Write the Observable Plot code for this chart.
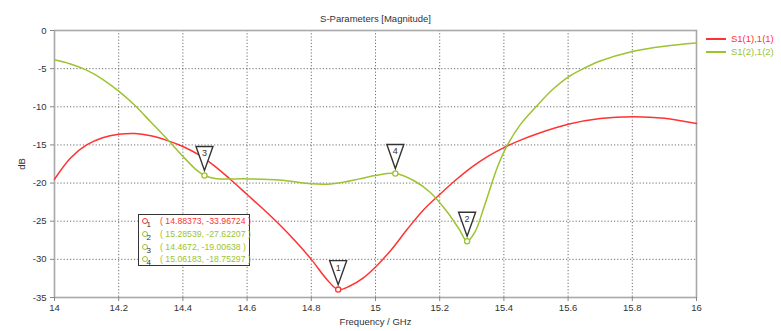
<!DOCTYPE html>
<html>
<head>
<meta charset="utf-8">
<script src="https://cdn.jsdelivr.net/npm/d3@7"></script>
<script src="https://cdn.jsdelivr.net/npm/@observablehq/plot@0.6"></script>
<style>
  html, body { margin: 0; padding: 0; background: #fff; }
  #wrap { position: relative; width: 781px; height: 331px; font-family: "Liberation Sans", Arial, sans-serif; }
  #legend { position: absolute; left: 706px; top: 32px; font-size: 9.5px; }
  #legend .row { display: flex; align-items: center; height: 13px; }
  #legend .sw { width: 20px; height: 2px; margin-right: 5px; }
  #readout { position: absolute; left: 138px; top: 214px; width: 110px; height: 50px;
    border: 1.5px solid #333; background: #fff; font-size: 8.7px; }
  #readout .row { position: relative; height: 12.8px; line-height: 12.8px; }
  #readout .dot { position: absolute; left: 3px; top: 3px; width: 4px; height: 4px; border-radius: 50%;
    border: 1.3px solid; background: #fff; }
  #readout .id { position: absolute; left: 7.5px; top: 6px; font-size: 8px; color: #333; line-height: 8px; }
  #readout .val { position: absolute; left: 21px; top: 0; white-space: nowrap; }
</style>
</head>
<body>
<div id="wrap"></div>
<script>
// Frequency axis ticks (GHz) and magnitude ticks (dB)
const freqTicks = [14, 14.2, 14.4, 14.6, 14.8, 15, 15.2, 15.4, 15.6, 15.8, 16];
const dbTicks = [0, -5, -10, -15, -20, -25, -30, -35];

// S1(1),1(1) magnitude samples
const s11Freq = [14.0, 14.05, 14.1, 14.15, 14.2, 14.25, 14.3, 14.35, 14.4, 14.45, 14.5, 14.55, 14.6, 14.65, 14.7, 14.75, 14.8, 14.85, 14.88373, 14.92, 14.96, 15.0, 15.05, 15.1, 15.15, 15.2, 15.25, 15.3, 15.35, 15.4, 15.45, 15.5, 15.6, 15.7, 15.8, 15.9, 16.0];
const s11Db = [-19.5, -16.7, -15.0, -14.05, -13.6, -13.5, -13.8, -14.4, -15.2, -16.3, -17.8, -19.6, -21.5, -23.4, -25.4, -27.6, -30.0, -32.7, -33.96724, -33.5, -32.5, -31.0, -28.7, -26.0, -23.5, -21.5, -19.6, -17.9, -16.5, -15.35, -14.4, -13.6, -12.3, -11.55, -11.3, -11.5, -12.2];

// S1(2),1(2) magnitude samples
const s22Freq = [14.0, 14.05, 14.1, 14.15, 14.2, 14.25, 14.3, 14.35, 14.4, 14.44, 14.4672, 14.5, 14.6, 14.7, 14.8, 14.85, 14.9, 14.95, 15.0, 15.06183, 15.12, 15.17, 15.22, 15.26, 15.28539, 15.31, 15.34, 15.38, 15.41, 15.45, 15.5, 15.55, 15.6, 15.65, 15.7, 15.8, 15.9, 16.0];
const s22Db = [-3.84, -4.4, -5.2, -6.4, -7.95, -9.8, -12.0, -14.2, -16.5, -18.2, -19.00638, -19.4, -19.45, -19.6, -20.1, -20.15, -19.9, -19.45, -19.0, -18.75297, -19.7, -21.2, -23.6, -26.0, -27.62207, -26.4, -22.9, -17.9, -15.1, -12.4, -10.0, -7.8, -6.1, -4.94, -4.0, -2.75, -2.06, -1.65];

// Curve markers
const markerIds = [1, 2, 3, 4];
const markerFreq = [14.88373, 15.28539, 14.4672, 15.06183];
const markerDb = [-33.96724, -27.62207, -19.00638, -18.75297];
const markerSeries = ["S1(1),1(1)", "S1(2),1(2)", "S1(2),1(2)", "S1(2),1(2)"];

const seriesNames = ["S1(1),1(1)", "S1(2),1(2)"];
const seriesColors = ["#ff3232", "#9cc330"];
const colorOf = Object.fromEntries(seriesNames.map((s, i) => [s, seriesColors[i]]));

const curves = [
  ...s11Freq.map((f, i) => ({series: seriesNames[0], freq: f, db: s11Db[i]})),
  ...s22Freq.map((f, i) => ({series: seriesNames[1], freq: f, db: s22Db[i]}))
];
const markers = markerIds.map((id, i) => ({id, freq: markerFreq[i], db: markerDb[i], series: markerSeries[i]}));

// Inverted flag triangle drawn above each marker
const flag = {
  draw(context) {
    context.moveTo(-8.5, -12);
    context.lineTo(8.5, -12);
    context.lineTo(0, 12);
    context.closePath();
  }
};

const axisFont = {fontSize: 9.5, fill: "#333"};

const chart = Plot.plot({
  width: 781,
  height: 331,
  marginLeft: 54,
  marginRight: 85,
  marginTop: 30,
  marginBottom: 34,
  style: {fontFamily: "Liberation Sans, Arial, sans-serif", fontSize: "9.5px", color: "#333", background: "#fff"},
  x: {domain: [14, 16]},
  y: {domain: [-35, 0]},
  marks: [
    Plot.gridX(freqTicks, {stroke: "#555", strokeOpacity: 0.85, strokeDasharray: "1.2,2"}),
    Plot.gridY(dbTicks, {stroke: "#555", strokeOpacity: 0.85, strokeDasharray: "1.2,2"}),
    Plot.frame({stroke: "#a8a8a8", strokeWidth: 1.6}),
    Plot.axisX({ticks: freqTicks, tickSize: 4, tickPadding: 3, stroke: "#888", ...axisFont,
      tickFormat: d => String(+d.toFixed(1)),
      label: "Frequency / GHz", labelAnchor: "center", labelArrow: "none", labelOffset: 27}),
    Plot.axisY({ticks: dbTicks, tickSize: 4, tickPadding: 4, stroke: "#888", ...axisFont,
      tickFormat: d => String(d),
      label: "dB", labelAnchor: "center", labelArrow: "none", labelOffset: 36}),
    Plot.line(curves, {x: "freq", y: "db", z: "series", stroke: d => colorOf[d.series],
      strokeWidth: 1.5, curve: "catmull-rom"}),
    Plot.dot(markers, {x: "freq", y: "db", r: 2.6, stroke: d => colorOf[d.series], fill: "#fff", strokeWidth: 1.3}),
    Plot.dot(markers, {x: "freq", y: "db", symbol: flag, r: 5, dy: -17, fill: "#fff", stroke: "#333", strokeWidth: 1.4}),
    Plot.text(markers, {x: "freq", y: "db", text: d => String(d.id), dy: -22, fontSize: 9, fill: "#333"}),
    Plot.text(["S-Parameters [Magnitude]"], {frameAnchor: "top", dy: -15, fontSize: 9.5, fill: "#333"})
  ]
});

const wrap = document.getElementById("wrap");
wrap.appendChild(chart);

// Series legend in the right margin
const legend = d3.select(wrap).append("div").attr("id", "legend");
seriesNames.forEach((s, i) => {
  const row = legend.append("div").attr("class", "row");
  row.append("div").attr("class", "sw").style("background", seriesColors[i]);
  row.append("span").style("color", seriesColors[i]).text(s);
});

// Marker readout box
const readout = d3.select(wrap).append("div").attr("id", "readout");
markers.forEach(m => {
  const row = readout.append("div").attr("class", "row");
  row.append("div").attr("class", "dot").style("border-color", colorOf[m.series]);
  row.append("div").attr("class", "id").text(m.id);
  row.append("div").attr("class", "val").style("color", colorOf[m.series])
    .text(`( ${m.freq}, ${m.db} )`);
});
</script>
</body>
</html>
